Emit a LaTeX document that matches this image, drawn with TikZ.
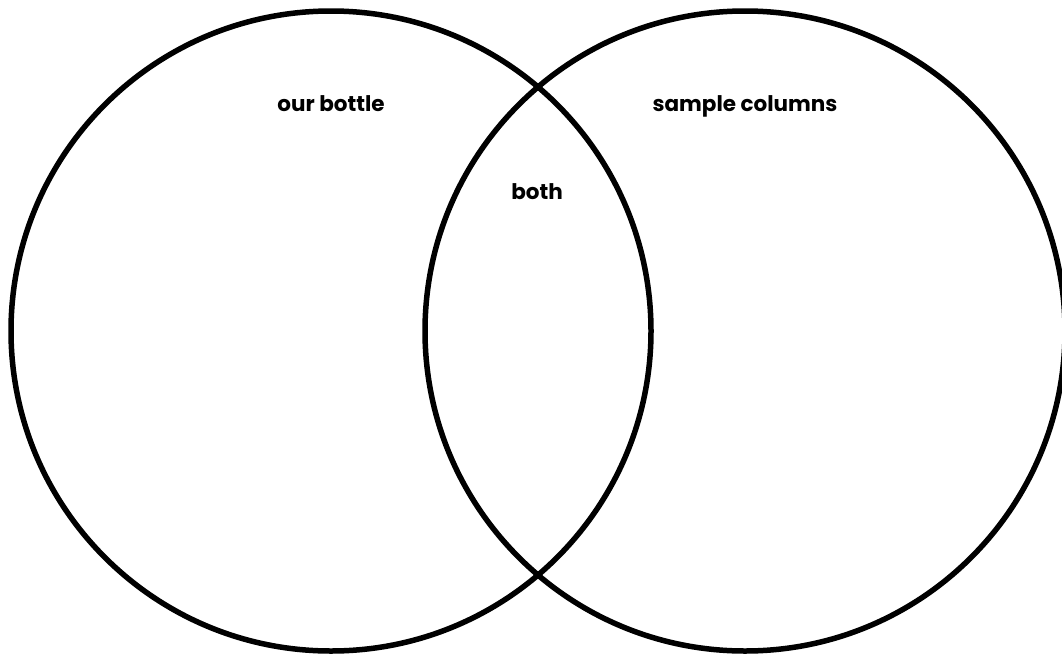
\documentclass[tikz,border=0pt]{standalone}
\usepackage{fontspec}
\setmainfont{Poppins}
\usepackage{tikz}
\usetikzlibrary{positioning}
\tikzset{set/.style={draw=black, line width=5.5pt, circle, minimum size=640pt, inner sep=0pt},
         setlabel/.style={font=\fontsize{21.5}{26}\selectfont\bfseries, inner sep=0pt, anchor=base}}

\begin{document}
\begin{tikzpicture}[x=1pt, y=-1pt]
\useasboundingbox[fill=white] (0,0) rectangle (1062,656);
\clip (0,0) rectangle (1062,656);
% Sets
\node (bottle) [set] at (331,331) {};
\node (columns) [set] at (745,331) {};

% Labels
\node (bottlelabel) [setlabel] at (331,111) {our bottle};
\node (columnslabel) [setlabel] at (745,111) {sample columns};
\node (bothlabel) [setlabel] at (537,199) {both};
\end{tikzpicture}
\end{document}
